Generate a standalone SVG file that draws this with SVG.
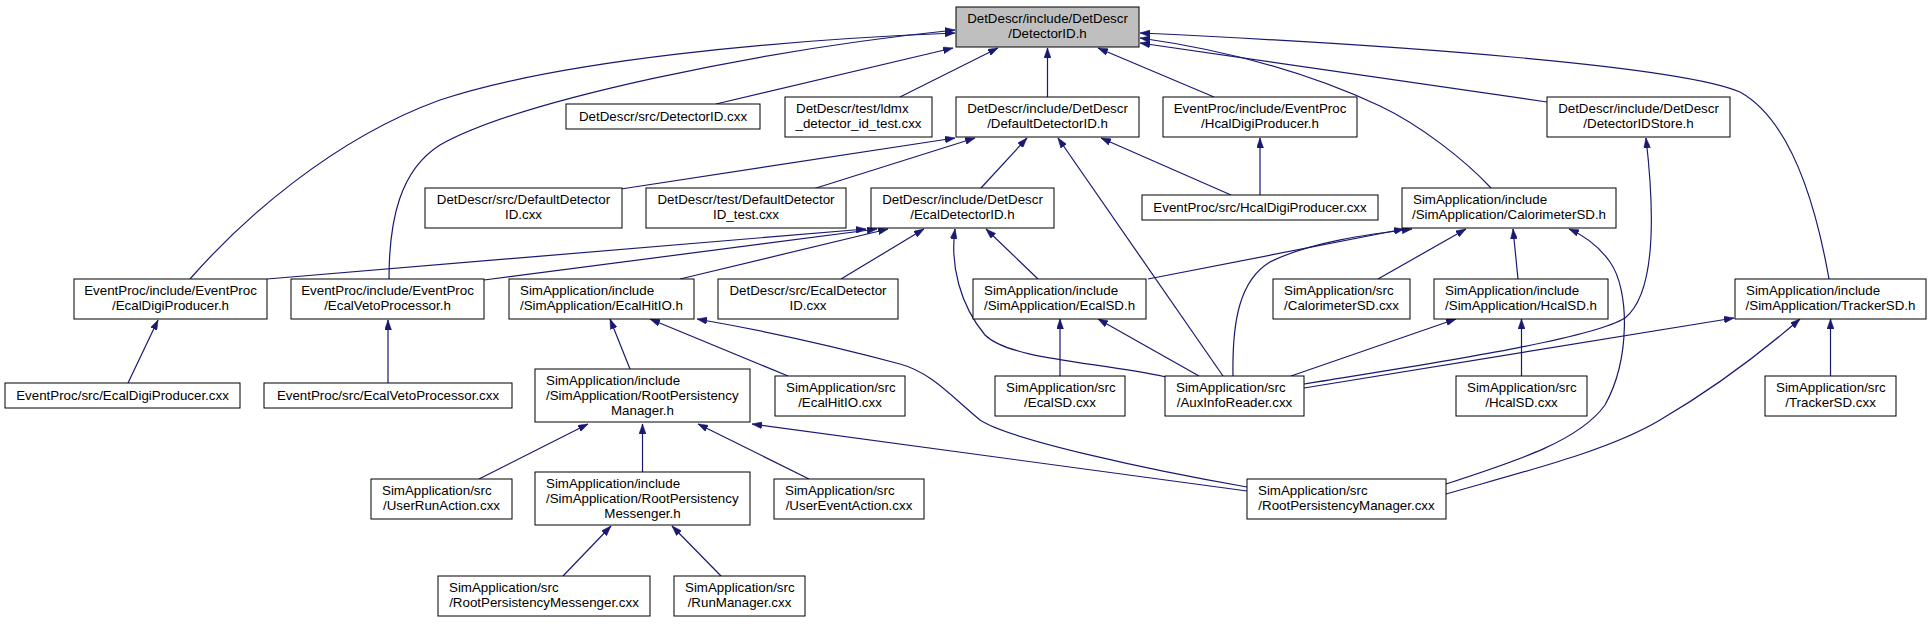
<svg xmlns="http://www.w3.org/2000/svg" width="1932" height="624" viewBox="0 0 1932 624">
<style>
.node rect{fill:#ffffff;stroke:#000000;stroke-width:1}
.root rect{fill:#bfbfbf}
text{font-family:"Liberation Sans",Arial,Helvetica,sans-serif;font-size:13.33px;fill:#000000}
.c{text-anchor:middle}
.l{text-anchor:start}
#edges path{fill:none;stroke:#191970;stroke-width:1.2;marker-end:url(#arr)}
</style>
<defs>
<marker id="arr" viewBox="0 0 10 7" markerWidth="10" markerHeight="7" refX="10" refY="3.5" orient="auto" markerUnits="userSpaceOnUse">
<path d="M0,0 L10,3.5 L0,7 Z" fill="#191970" stroke="#191970" stroke-width="0.5"/>
</marker>
</defs>
<rect x="0" y="0" width="1932" height="624" fill="#ffffff"/>
<g id="edges">
<path d="M716,104 L953,48"/>
<path d="M900,97 L998,48"/>
<path d="M1047.5,97 L1047.5,48"/>
<path d="M1214,97 L1098,48"/>
<path d="M1547,102 L1140,43"/>
<path d="M1491,188 C1465,160 1420,125 1380,106 C1320,78 1240,52 1140,38"/>
<path d="M1829,279 C1815,200 1790,120 1740,92 C1680,66 1400,45 1140,33"/>
<path d="M190,279 C240,222 330,140 440,100 C560,60 780,40 955,33"/>
<path d="M389,279 C389,220 400,170 440,145 C520,100 760,50 955,30"/>
<path d="M621,189 L955,138"/>
<path d="M813,189 L975,138"/>
<path d="M981,188 L1027,138"/>
<path d="M1223,376 L1058,138"/>
<path d="M1231,195 L1101,138"/>
<path d="M1260,195 L1260,138"/>
<path d="M267,279 L866,229"/>
<path d="M484,280 L877,229"/>
<path d="M680,279 L888,229"/>
<path d="M841,279 L924,229"/>
<path d="M1038,279 L986,229"/>
<path d="M1166,377 C1100,362 1010,360 985,335 C960,305 950,265 955,229"/>
<path d="M1148,279 L1404,229"/>
<path d="M1233,376 C1232,320 1240,280 1270,262 C1310,242 1370,234 1412,229"/>
<path d="M1378,279 L1466,229"/>
<path d="M1518,279 L1513,229"/>
<path d="M1446,484 C1520,460 1580,440 1605,405 C1630,360 1630,290 1610,262 C1598,245 1585,236 1569,229"/>
<path d="M1304,384 C1420,365 1590,340 1625,318 C1660,290 1652,190 1646,138"/>
<path d="M1304,388 L1734,318"/>
<path d="M1830.5,376 L1830.5,319"/>
<path d="M1446,494 C1530,470 1610,450 1660,420 C1720,385 1770,345 1800,319"/>
<path d="M1291,376 L1456,319"/>
<path d="M1521.5,376 L1521.5,319"/>
<path d="M1060,376 L1060,319"/>
<path d="M1199,376 L1098,319"/>
<path d="M630,369 L610,319"/>
<path d="M788,376 L650,319"/>
<path d="M1247,487 C1150,470 1010,440 980,420 C950,395 930,372 900,364 C830,345 760,330 697,319"/>
<path d="M479,479 L588,424"/>
<path d="M642.5,472 L642.5,424"/>
<path d="M809,479 L698,424"/>
<path d="M1247,491 L752,424"/>
<path d="M563,576 L611,526"/>
<path d="M721,576 L672,526"/>
<path d="M128,383 L158,320"/>
<path d="M388,383 L388,320"/>
</g>
<g id="n_root" class="node root"><rect x="956" y="7" width="183" height="40"/><text class="c" x="1047.5" y="23">DetDescr/include/DetDescr</text><text class="c" x="1047.5" y="38">/DetectorID.h</text></g>
<g id="n_detid_cxx" class="node"><rect x="566" y="104" width="194" height="25"/><text class="c" x="663" y="121">DetDescr/src/DetectorID.cxx</text></g>
<g id="n_ldmx_test" class="node"><rect x="785" y="97" width="147" height="40"/><text class="l" x="796" y="113">DetDescr/test/ldmx</text><text class="c" x="858.5" y="128">_detector_id_test.cxx</text></g>
<g id="n_defid_h" class="node"><rect x="956" y="97" width="183" height="40"/><text class="c" x="1047.5" y="113">DetDescr/include/DetDescr</text><text class="c" x="1047.5" y="128">/DefaultDetectorID.h</text></g>
<g id="n_hcaldigi_h" class="node"><rect x="1163" y="97" width="194" height="40"/><text class="c" x="1260" y="113">EventProc/include/EventProc</text><text class="c" x="1260" y="128">/HcalDigiProducer.h</text></g>
<g id="n_idstore_h" class="node"><rect x="1547" y="97" width="183" height="40"/><text class="c" x="1638.5" y="113">DetDescr/include/DetDescr</text><text class="c" x="1638.5" y="128">/DetectorIDStore.h</text></g>
<g id="n_defid_cxx" class="node"><rect x="425" y="188" width="197" height="40"/><text class="c" x="523.5" y="204">DetDescr/src/DefaultDetector</text><text class="c" x="523.5" y="219">ID.cxx</text></g>
<g id="n_defid_test" class="node"><rect x="646" y="188" width="200" height="40"/><text class="c" x="746" y="204">DetDescr/test/DefaultDetector</text><text class="c" x="746" y="219">ID_test.cxx</text></g>
<g id="n_ecalid_h" class="node"><rect x="871" y="188" width="183" height="40"/><text class="c" x="962.5" y="204">DetDescr/include/DetDescr</text><text class="c" x="962.5" y="219">/EcalDetectorID.h</text></g>
<g id="n_hcaldigi_cxx" class="node"><rect x="1142" y="195" width="236" height="25"/><text class="c" x="1260" y="212">EventProc/src/HcalDigiProducer.cxx</text></g>
<g id="n_calo_h" class="node"><rect x="1402" y="188" width="214" height="40"/><text class="l" x="1413" y="204">SimApplication/include</text><text class="c" x="1509" y="219">/SimApplication/CalorimeterSD.h</text></g>
<g id="n_ecaldigi_h" class="node"><rect x="74" y="279" width="193" height="40"/><text class="c" x="170.5" y="295">EventProc/include/EventProc</text><text class="c" x="170.5" y="310">/EcalDigiProducer.h</text></g>
<g id="n_ecalveto_h" class="node"><rect x="291" y="279" width="193" height="40"/><text class="c" x="387.5" y="295">EventProc/include/EventProc</text><text class="c" x="387.5" y="310">/EcalVetoProcessor.h</text></g>
<g id="n_ecalhitio_h" class="node"><rect x="509" y="279" width="185" height="40"/><text class="l" x="520" y="295">SimApplication/include</text><text class="c" x="601.5" y="310">/SimApplication/EcalHitIO.h</text></g>
<g id="n_ecalid_cxx" class="node"><rect x="718" y="279" width="180" height="40"/><text class="c" x="808" y="295">DetDescr/src/EcalDetector</text><text class="c" x="808" y="310">ID.cxx</text></g>
<g id="n_ecalsd_h" class="node"><rect x="973" y="279" width="173" height="40"/><text class="l" x="984" y="295">SimApplication/include</text><text class="c" x="1059.5" y="310">/SimApplication/EcalSD.h</text></g>
<g id="n_calo_cxx" class="node"><rect x="1273" y="279" width="137" height="40"/><text class="l" x="1284" y="295">SimApplication/src</text><text class="c" x="1341.5" y="310">/CalorimeterSD.cxx</text></g>
<g id="n_hcalsd_h" class="node"><rect x="1434" y="279" width="174" height="40"/><text class="l" x="1445" y="295">SimApplication/include</text><text class="c" x="1521" y="310">/SimApplication/HcalSD.h</text></g>
<g id="n_trackersd_h" class="node"><rect x="1735" y="279" width="191" height="40"/><text class="l" x="1746" y="295">SimApplication/include</text><text class="c" x="1830.5" y="310">/SimApplication/TrackerSD.h</text></g>
<g id="n_ecaldigi_cxx" class="node"><rect x="5" y="383" width="235" height="25"/><text class="c" x="122.5" y="400">EventProc/src/EcalDigiProducer.cxx</text></g>
<g id="n_ecalveto_cxx" class="node"><rect x="264" y="383" width="248" height="25"/><text class="c" x="388" y="400">EventProc/src/EcalVetoProcessor.cxx</text></g>
<g id="n_rpm_h" class="node"><rect x="535" y="369" width="215" height="53"/><text class="l" x="546" y="385">SimApplication/include</text><text class="l" x="546" y="400">/SimApplication/RootPersistency</text><text class="c" x="642.5" y="415">Manager.h</text></g>
<g id="n_ecalhitio_cxx" class="node"><rect x="775" y="376" width="130" height="40"/><text class="l" x="786" y="392">SimApplication/src</text><text class="c" x="840" y="407">/EcalHitIO.cxx</text></g>
<g id="n_ecalsd_cxx" class="node"><rect x="995" y="376" width="130" height="40"/><text class="l" x="1006" y="392">SimApplication/src</text><text class="c" x="1060" y="407">/EcalSD.cxx</text></g>
<g id="n_aux_cxx" class="node"><rect x="1165" y="376" width="139" height="40"/><text class="l" x="1176" y="392">SimApplication/src</text><text class="c" x="1234.5" y="407">/AuxInfoReader.cxx</text></g>
<g id="n_hcalsd_cxx" class="node"><rect x="1456" y="376" width="131" height="40"/><text class="l" x="1467" y="392">SimApplication/src</text><text class="c" x="1521.5" y="407">/HcalSD.cxx</text></g>
<g id="n_trackersd_cxx" class="node"><rect x="1765" y="376" width="131" height="40"/><text class="l" x="1776" y="392">SimApplication/src</text><text class="c" x="1830.5" y="407">/TrackerSD.cxx</text></g>
<g id="n_userrun" class="node"><rect x="371" y="479" width="141" height="40"/><text class="l" x="382" y="495">SimApplication/src</text><text class="c" x="441.5" y="510">/UserRunAction.cxx</text></g>
<g id="n_rpmsg_h" class="node"><rect x="535" y="472" width="215" height="53"/><text class="l" x="546" y="488">SimApplication/include</text><text class="l" x="546" y="503">/SimApplication/RootPersistency</text><text class="c" x="642.5" y="518">Messenger.h</text></g>
<g id="n_userevent" class="node"><rect x="774" y="479" width="150" height="40"/><text class="l" x="785" y="495">SimApplication/src</text><text class="c" x="849" y="510">/UserEventAction.cxx</text></g>
<g id="n_rpm_cxx" class="node"><rect x="1247" y="479" width="199" height="40"/><text class="l" x="1258" y="495">SimApplication/src</text><text class="c" x="1346.5" y="510">/RootPersistencyManager.cxx</text></g>
<g id="n_rpmsg_cxx" class="node"><rect x="438" y="576" width="212" height="40"/><text class="l" x="449" y="592">SimApplication/src</text><text class="c" x="544" y="607">/RootPersistencyMessenger.cxx</text></g>
<g id="n_runmgr" class="node"><rect x="674" y="576" width="131" height="40"/><text class="l" x="685" y="592">SimApplication/src</text><text class="c" x="739.5" y="607">/RunManager.cxx</text></g>
</svg>
